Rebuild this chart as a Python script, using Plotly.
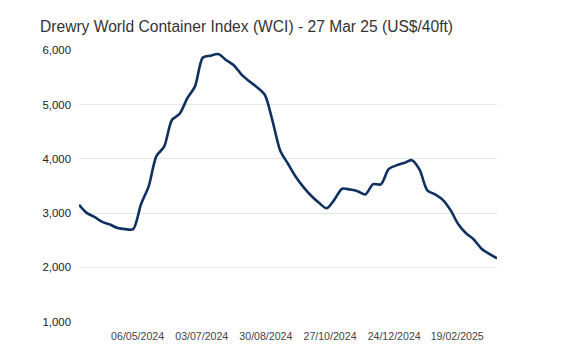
import pandas as pd
import plotly.graph_objects as go

title_text = "Drewry World Container Index (WCI) - 27 Mar 25 (US$/40ft)"

dates = pd.date_range("2024-03-14", "2025-03-27", freq="7D").strftime("%Y-%m-%d").tolist()
wci = [3155, 3005, 2930, 2840, 2790, 2725, 2705, 2705, 3159, 3493,
       4050, 4226, 4716, 4830, 5117, 5340, 5868, 5901, 5930, 5820,
       5725, 5551, 5428, 5319, 5181, 4700, 4150, 3910, 3670, 3480,
       3320, 3190, 3090, 3250, 3450, 3435, 3405, 3345, 3535, 3530,
       3810, 3880, 3925, 3975, 3800, 3420, 3345, 3245, 3055, 2795,
       2630, 2515, 2345, 2250, 2168]

tick_vals = ["2024-05-06", "2024-07-03", "2024-08-30", "2024-10-27", "2024-12-24", "2025-02-19"]
tick_text = ["06/05/2024", "03/07/2024", "30/08/2024", "27/10/2024", "24/12/2024", "19/02/2025"]
y_ticks = [1000, 2000, 3000, 4000, 5000, 6000]

# the page body adds an 8px margin, so the figure is sized/offset to compensate
W, H = 566, 347

fig = go.Figure()
fig.add_trace(go.Scatter(
    x=dates, y=wci, mode="lines",
    line=dict(color="#10315f", width=2.6, shape="spline", smoothing=0.8),
    hoverinfo="x+y", showlegend=False,
))

fig.update_layout(
    width=W, height=H,
    margin=dict(l=71, r=77, t=42, b=33),
    paper_bgcolor="white", plot_bgcolor="white",
    font=dict(family="Liberation Sans, Arial, sans-serif", color="#333333", size=12),
    title=dict(text=title_text, x=32 / W, xanchor="left", y=1 - 19 / H, yanchor="middle",
               font=dict(size=15.6, color="#333333", family="Liberation Sans, Arial, sans-serif")),
    xaxis=dict(type="date", range=["2024-03-14", "2025-03-27"], tickvals=tick_vals, ticktext=tick_text,
               showgrid=False, zeroline=False, showline=False, ticks="",
               ticklabelstandoff=6, tickfont=dict(size=10.6, color="#444444")),
    yaxis=dict(range=[995, 6005], tickvals=y_ticks, tickformat=",d", showgrid=True,
               gridcolor="#e6e6e6", gridwidth=1, zeroline=False, showline=False, ticks="",
               ticklabelstandoff=7, tickfont=dict(size=11.4, color="#222222")),
)

fig.write_html("out.html")
